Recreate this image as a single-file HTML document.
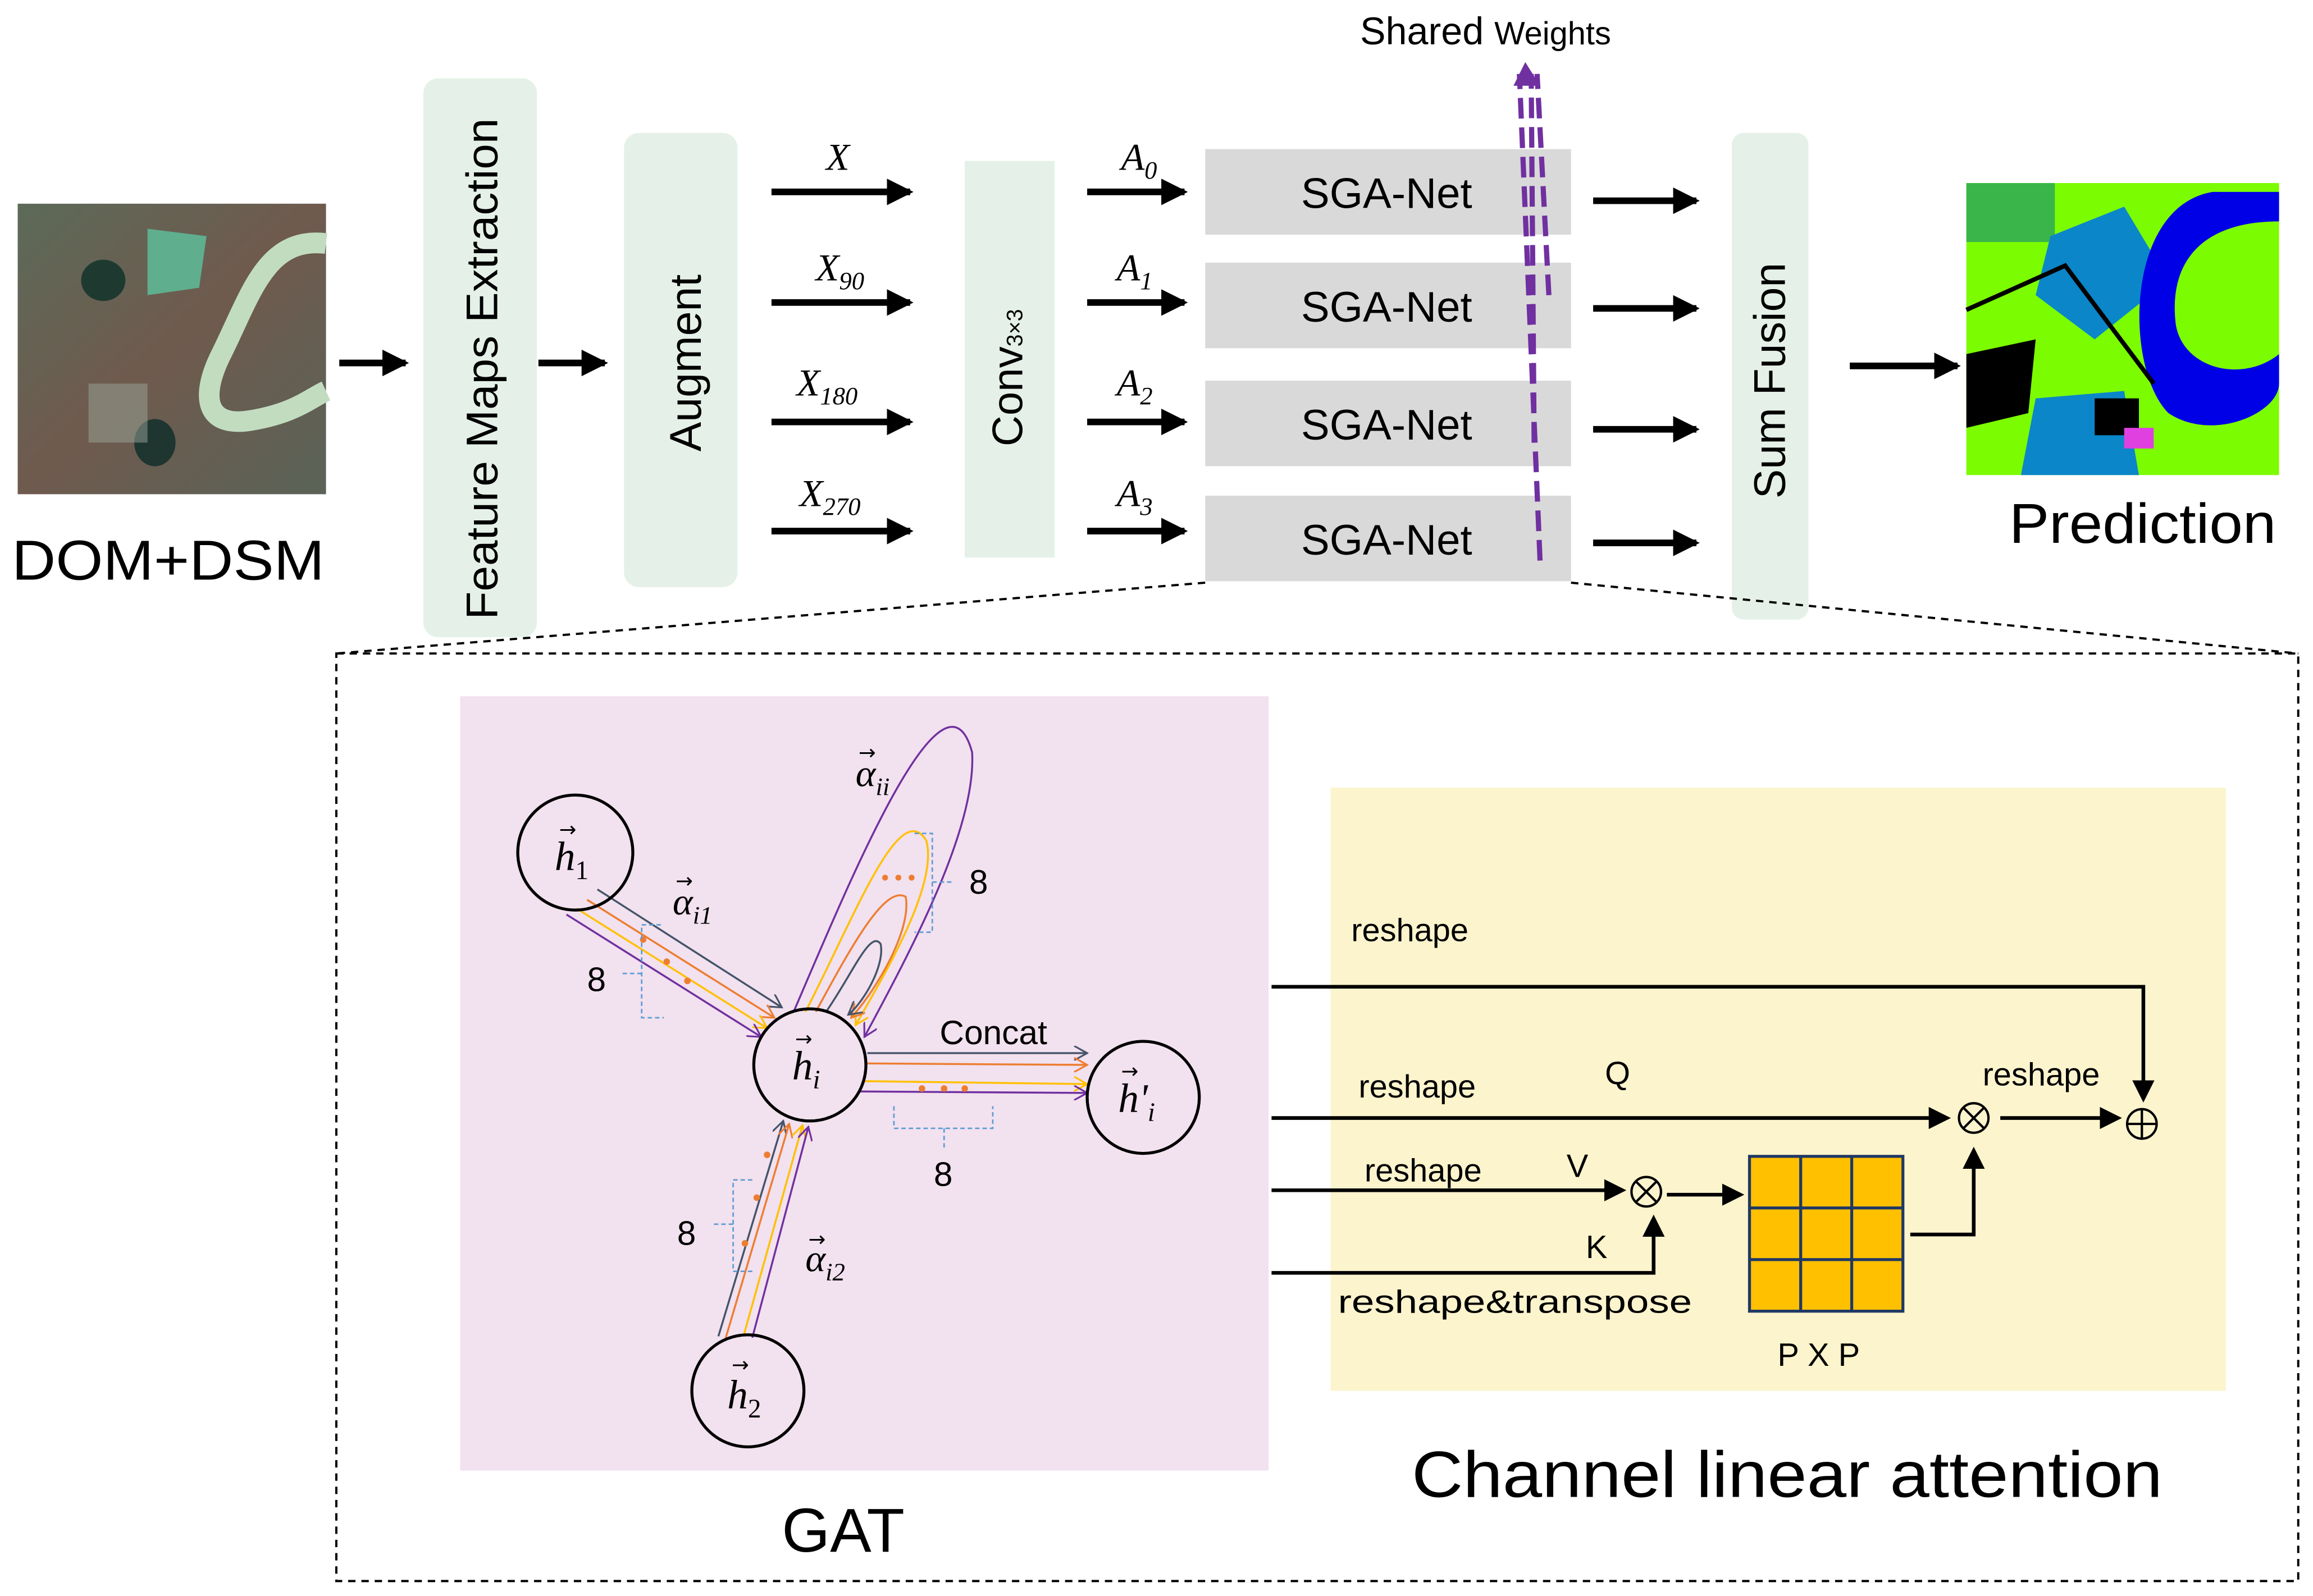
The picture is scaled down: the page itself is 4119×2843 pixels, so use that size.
<!DOCTYPE html>
<html><head><meta charset="utf-8"><style>html,body{margin:0;padding:0;background:#fff}svg{display:block}</style></head><body>
<svg width="4119" height="2843" viewBox="0 0 1568 1082" xmlns="http://www.w3.org/2000/svg" font-family="Liberation Sans, DejaVu Sans, sans-serif">
<defs>
<marker id="ab" markerWidth="6" markerHeight="6" refX="5" refY="3" orient="auto" markerUnits="strokeWidth"><path d="M0,0 L6,3 L0,6 z" fill="#000"/></marker>
<marker id="ab2" markerWidth="4" markerHeight="4" refX="3.5" refY="2" orient="auto" markerUnits="strokeWidth"><path d="M0,0 L4,2 L0,4 z" fill="#000"/></marker>
<marker id="ao" viewBox="0 0 10 10" markerWidth="10" markerHeight="10" refX="9" refY="5" orient="auto" markerUnits="userSpaceOnUse"><path d="M0,0 L9,5 L0,10" fill="none" stroke="context-stroke" stroke-width="1.2"/></marker>
<linearGradient id="sat" x1="0" y1="0" x2="1" y2="1"><stop offset="0" stop-color="#5c6a58"/><stop offset="0.5" stop-color="#6f5a4e"/><stop offset="1" stop-color="#5a6357"/></linearGradient>
</defs>
<rect x="12" y="138" width="209" height="197" fill="url(#sat)"/>
<ellipse cx="70" cy="190" rx="15" ry="14" fill="#1e3a30"/>
<path d="M100,155 L140,160 L135,195 L100,200z" fill="#5fae8e"/>
<ellipse cx="105" cy="300" rx="14" ry="16" fill="#1e3530"/>
<path d="M221,165 C180,160 170,200 150,240 C135,270 140,290 170,285 C200,280 210,270 221,265" fill="none" stroke="#c2dcc0" stroke-width="14"/>
<rect x="60" y="260" width="40" height="40" fill="#9aa59a" opacity="0.5"/>
<text x="8" y="393" font-size="38" textLength="212" lengthAdjust="spacingAndGlyphs" fill="#000">DOM+DSM</text>
<g stroke="#000" stroke-width="4.5" marker-end="url(#ab2)">
<line x1="230" y1="246" x2="275" y2="246"/>
<line x1="365" y1="246" x2="410" y2="246"/>
<line x1="523" y1="130" x2="617" y2="130"/>
<line x1="523" y1="205" x2="617" y2="205"/>
<line x1="523" y1="286" x2="617" y2="286"/>
<line x1="523" y1="360" x2="617" y2="360"/>
<line x1="737" y1="130" x2="803" y2="130"/>
<line x1="737" y1="205" x2="803" y2="205"/>
<line x1="737" y1="286" x2="803" y2="286"/>
<line x1="737" y1="360" x2="803" y2="360"/>
<line x1="1080" y1="136" x2="1150" y2="136"/>
<line x1="1080" y1="209" x2="1150" y2="209"/>
<line x1="1080" y1="291" x2="1150" y2="291"/>
<line x1="1080" y1="368" x2="1150" y2="368"/>
<line x1="1254" y1="248" x2="1327" y2="248"/>
</g>
<rect x="287" y="53" width="77" height="379" rx="10" fill="#e5f1e8"/>
<text transform="translate(337,250) rotate(-90)" text-anchor="middle" font-size="30" textLength="340" lengthAdjust="spacingAndGlyphs">Feature Maps  Extraction</text>
<rect x="423" y="90" width="77" height="308" rx="10" fill="#e5f1e8"/>
<text transform="translate(475,246) rotate(-90)" text-anchor="middle" font-size="30">Augment</text>
<rect x="654" y="109" width="61" height="269" fill="#e5f1e8"/>
<text transform="translate(693,256) rotate(-90)" text-anchor="middle" font-size="29">Conv<tspan font-size="15">3×3</tspan></text>
<g font-family="Liberation Serif, serif" font-style="italic" font-size="26">
<text x="560" y="115">X</text>
<text x="553" y="190">X<tspan font-size="17" dy="6">90</tspan></text>
<text x="540" y="268">X<tspan font-size="17" dy="6">180</tspan></text>
<text x="542" y="343">X<tspan font-size="17" dy="6">270</tspan></text>
<text x="760" y="115">A<tspan font-size="17" dy="6">0</tspan></text>
<text x="757" y="190">A<tspan font-size="17" dy="6">1</tspan></text>
<text x="757" y="268">A<tspan font-size="17" dy="6">2</tspan></text>
<text x="757" y="343">A<tspan font-size="17" dy="6">3</tspan></text>
</g>
<g fill="#d9d9d9">
<rect x="817" y="101" width="248" height="58"/>
<rect x="817" y="178" width="248" height="58"/>
<rect x="817" y="258" width="248" height="58"/>
<rect x="817" y="336" width="248" height="58"/>
</g>
<g font-size="29" text-anchor="middle">
<text x="940" y="141">SGA-Net</text>
<text x="940" y="218">SGA-Net</text>
<text x="940" y="298">SGA-Net</text>
<text x="940" y="376">SGA-Net</text>
</g>
<g stroke="#7030a0" stroke-width="3.5" stroke-dasharray="14,6" fill="none">
<line x1="1044" y1="380" x2="1030" y2="50"/>
<line x1="1040" y1="300" x2="1038" y2="50"/>
<line x1="1050" y1="200" x2="1042" y2="50"/>
</g>
<path d="M1026,58 L1034,42 L1044,58z" fill="#7030a0"/>
<text x="922" y="30" font-size="26">Shared <tspan font-size="22">Weights</tspan></text>
<rect x="1174" y="90" width="52" height="330" rx="8" fill="#e5f1e8"/>
<text transform="translate(1210,258) rotate(-90)" text-anchor="middle" font-size="30">Sum Fusion</text>
<rect x="1333" y="124" width="212" height="198" fill="#7cfc00"/>
<path d="M1333,124 h60 v40 h-60z" fill="#39b54a"/>
<path d="M1390,160 L1440,140 L1470,190 L1420,230 L1380,200z" fill="#0b86c9"/>
<path d="M1500,130 C1440,140 1440,250 1470,280 C1500,300 1545,280 1545,260 L1545,240 C1520,260 1480,250 1475,220 C1470,180 1490,150 1545,150 L1545,130z" fill="#0000e6"/>
<path d="M1380,270 L1440,265 L1450,322 L1370,322z" fill="#0b86c9"/>
<path d="M1333,240 L1380,230 L1375,280 L1333,290z" fill="#000"/>
<rect x="1420" y="270" width="30" height="25" fill="#000"/>
<path d="M1333,210 L1400,180 L1460,260" stroke="#000" stroke-width="3" fill="none"/>
<rect x="1440" y="290" width="20" height="14" fill="#e040e0"/>
<text x="1362" y="368" font-size="38" textLength="181" lengthAdjust="spacingAndGlyphs">Prediction</text>
<g stroke="#000" stroke-width="1.5" stroke-dasharray="5,4" fill="none">
<line x1="817" y1="395" x2="228" y2="443"/>
<line x1="1065" y1="395" x2="1558" y2="443"/>
<rect x="228" y="443" width="1330" height="629"/>
</g>
<rect x="312" y="472" width="548" height="525" fill="#f2e1ee"/>
<g fill="none" stroke-width="1.3" marker-end="url(#ao)">
<path d="M405,603 L530,683" stroke="#44546a"/>
<path d="M398,610 L525,690" stroke="#ed7d31"/>
<path d="M391,616 L520,697" stroke="#ffc000"/>
<path d="M384,620 L516,703" stroke="#7030a0"/>
<path d="M538,686 C575,600 640,440 659,510 C662,560 620,640 586,703" stroke="#7030a0"/>
<path d="M546,686 C580,620 610,540 628,570 C636,600 600,660 580,695" stroke="#ffc000"/>
<path d="M553,686 C578,640 600,600 614,608 C618,630 595,670 577,690" stroke="#ed7d31"/>
<path d="M560,686 C578,660 590,630 597,640 C600,655 585,680 575,688" stroke="#44546a"/>
<path d="M588,714 L737,714" stroke="#44546a"/>
<path d="M588,721 L737,722" stroke="#ed7d31"/>
<path d="M586,733 L737,735" stroke="#ffc000"/>
<path d="M583,740 L737,741" stroke="#7030a0"/>
<path d="M487,906 L531,760" stroke="#44546a"/>
<path d="M492,907 L535,762" stroke="#ed7d31"/>
<path d="M504,906 L544,763" stroke="#ffc000"/>
<path d="M510,907 L548,764" stroke="#7030a0"/>
</g>
<g fill="#ed7d31">
<circle cx="436" cy="637" r="2.2"/><circle cx="452" cy="652" r="2.2"/><circle cx="466" cy="665" r="2.2"/>
<circle cx="600" cy="595" r="2"/><circle cx="609" cy="595" r="2"/><circle cx="618" cy="595" r="2"/>
<circle cx="625" cy="738" r="2.2"/><circle cx="640" cy="738" r="2.2"/><circle cx="654" cy="738" r="2.2"/>
<circle cx="520" cy="783" r="2.2"/><circle cx="513" cy="812" r="2.2"/><circle cx="505" cy="843" r="2.2"/>
</g>
<g stroke="#5b9bd5" stroke-width="1" stroke-dasharray="3,2" fill="none">
<path d="M448,627 L435,627 L435,690 L450,690 M435,660 L422,660"/>
<path d="M620,565 L632,565 L632,632 L620,632 M632,598 L645,598"/>
<path d="M606,750 L606,765 L673,765 L673,750 M640,765 L640,778"/>
<path d="M510,800 L497,800 L497,862 L510,862 M497,830 L484,830"/>
</g>
<g fill="none" stroke="#000" stroke-width="2">
<circle cx="390" cy="578" r="39"/>
<circle cx="549" cy="722" r="38"/>
<circle cx="775" cy="744" r="38"/>
<circle cx="507" cy="943" r="38"/>
</g>
<g font-family="Liberation Serif, serif" font-style="italic" font-size="28">
<text x="376" y="590">h<tspan font-size="18" dy="6" font-style="normal">1</tspan></text>
<text x="537" y="732">h<tspan font-size="18" dy="6">i</tspan></text>
<text x="758" y="754">h'<tspan font-size="18" dy="6">i</tspan></text>
<text x="493" y="955">h<tspan font-size="18" dy="6" font-style="normal">2</tspan></text>
<text x="580" y="533" font-size="26">α<tspan font-size="17" dy="6">ii</tspan></text>
<text x="456" y="620" font-size="26">α<tspan font-size="17" dy="6">i1</tspan></text>
<text x="546" y="862" font-size="26">α<tspan font-size="17" dy="6">i2</tspan></text>
</g>
<g font-size="14" font-family="DejaVu Sans, sans-serif">
<text x="379" y="567">→</text><text x="539" y="709">→</text><text x="760" y="731">→</text><text x="496" y="930">→</text>
<text x="582" y="515">→</text><text x="458" y="602">→</text><text x="548" y="845">→</text>
</g>
<g font-size="23">
<text x="398" y="672">8</text><text x="657" y="606">8</text><text x="633" y="804">8</text><text x="459" y="844">8</text>
<text x="637" y="708">Concat</text>
</g>
<text x="530" y="1052" font-size="42">GAT</text>
<rect x="902" y="534" width="607" height="409" fill="#fcf4cd"/>
<g stroke="#000" stroke-width="2.5" fill="none" marker-end="url(#ab)">
<path d="M862,669 L1453,669 L1453,745"/>
<path d="M862,758 L1320,758"/>
<path d="M862,807 L1100,807"/>
<path d="M862,863 L1121,863 L1121,826"/>
<path d="M1130,810 L1180,810"/>
<path d="M1295,837 L1338,837 L1338,780"/>
<path d="M1356,758 L1436,758"/>
</g>
<g font-size="22">
<text x="916" y="638">reshape</text>
<text x="921" y="744">reshape</text>
<text x="1088" y="735">Q</text>
<text x="925" y="801">reshape</text>
<text x="1062" y="798">V</text>
<text x="1075" y="853">K</text>
<text x="907" y="890" textLength="240" lengthAdjust="spacingAndGlyphs">reshape&amp;transpose</text>
<text x="1344" y="736">reshape</text>
<text x="1205" y="926">P X P</text>
</g>
<g fill="none" stroke="#000" stroke-width="1.6">
<circle cx="1338" cy="758" r="10"/><path d="M1331,751 L1345,765 M1345,751 L1331,765"/>
<circle cx="1116" cy="808" r="10"/><path d="M1109,801 L1123,815 M1123,801 L1109,815"/>
<circle cx="1452" cy="762" r="10"/><path d="M1442,762 L1462,762 M1452,752 L1452,772"/>
</g>
<rect x="1186" y="784" width="104" height="105" fill="#ffc000" stroke="#1f3864" stroke-width="2"/>
<path d="M1220.7,784 V889 M1255.3,784 V889 M1186,819 H1290 M1186,854 H1290" stroke="#1f3864" stroke-width="2"/>
<text x="957" y="1015" font-size="44" textLength="509" lengthAdjust="spacingAndGlyphs">Channel linear attention</text>
</svg>
</body></html>
